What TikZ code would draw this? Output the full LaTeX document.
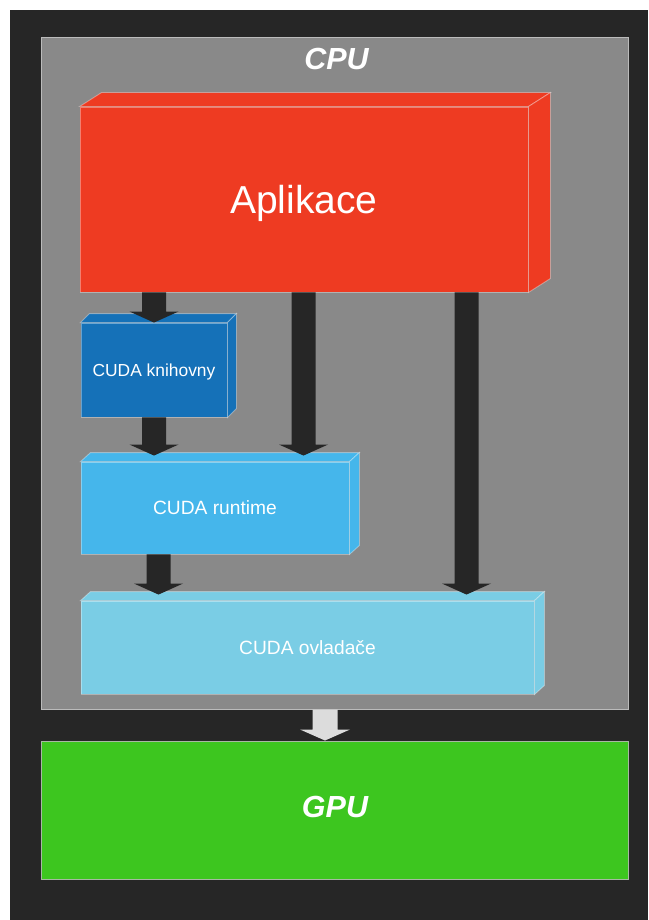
\documentclass[tikz,border=0pt]{standalone}
\usepackage{fontspec}
\setmainfont{Liberation Sans}
\usetikzlibrary{calc}
\definecolor{bgdark}{HTML}{262626}
\definecolor{cpufill}{HTML}{898989}
\definecolor{cpuedge}{HTML}{BBBBBB}
\definecolor{gpufill}{HTML}{3DC61F}
\definecolor{gpuedge}{HTML}{A8B8A4}
\definecolor{appred}{HTML}{EE3B22}
\definecolor{libblue}{HTML}{1571B8}
\definecolor{rtblue}{HTML}{45B6EB}
\definecolor{drvblue}{HTML}{7ACDE5}
\definecolor{arrowdark}{HTML}{262626}
\definecolor{arrowlight}{HTML}{DCDCDC}
\newcommand{\depthfaces}[4]{% node, dx, dy, colour
  \filldraw[faceedge, fill=#4] (#1.north west) -- ++(#2,#3) -- ($(#1.north east)+(#2,#3)$) -- (#1.north east) -- cycle;
  \filldraw[faceedge, fill=#4] (#1.north east) -- ++(#2,#3) -- ($(#1.south east)+(#2,#3)$) -- (#1.south east) -- cycle;
}
\newcommand{\blockarrow}[6]{% colour, start, tip, shaft half, head half, head length
  \fill[#1] let \p1=#2, \p2=#3 in
    (\x1-#4,\y1) -- (\x1+#4,\y1) -- (\x1+#4,\y2+#6) -- (\x1+#5,\y2+#6) -- (\x1,\y2)
    -- (\x1-#5,\y2+#6) -- (\x1-#4,\y2+#6) -- cycle;
}
\tikzset{
  faceedge/.style={draw=white, draw opacity=0.35, line width=0.9pt},
  boxfront/.style={faceedge, inner sep=0pt, text=white, text depth=0pt},
  bigbox/.style={draw=#1, line width=1pt, inner sep=0pt},
  titletext/.style={text=white, font=\fontsize{30.5}{30.5}\selectfont\bfseries\itshape, inner sep=0pt, anchor=base},
}
\begin{document}
\begin{tikzpicture}[x=1pt, y=-1pt]
\useasboundingbox (0,0) rectangle (648,920);
\fill[white] (0,0) rectangle (648,920);
\fill[bgdark] (10,10) rectangle (648,920);

% CPU and GPU areas
\node[bigbox=cpuedge, fill=cpufill, minimum width=587pt, minimum height=671pt] (cpu) at (334.5,373.5) {};
\node[titletext] (cputxt) at (336.5,69.5) {CPU};
\node[bigbox=gpuedge, fill=gpufill, minimum width=587pt, minimum height=138pt] (gpu) at (334.5,810) {};
\node[titletext] (gputxt) at (335,817.5) {GPU};

% 3D boxes
\node[boxfront, fill=appred, minimum width=448pt, minimum height=185pt, text height=28pt,
      font=\fontsize{39}{39}\selectfont] (app) at (304,199.5) {Aplikace};
\depthfaces{app}{22}{-14}{appred}
\node[boxfront, fill=libblue, minimum width=146pt, minimum height=94pt, text height=12.5pt,
      font=\fontsize{17.4}{17.4}\selectfont] (lib) at (154,370) {CUDA knihovny};
\depthfaces{lib}{9}{-9}{libblue}
\node[boxfront, fill=rtblue, minimum width=268pt, minimum height=92pt, text height=13.8pt,
      font=\fontsize{19.2}{19.2}\selectfont] (rt) at (215,508) {CUDA runtime};
\depthfaces{rt}{10}{-9}{rtblue}
\node[boxfront, fill=drvblue, minimum width=453pt, minimum height=93pt, text height=13.8pt,
      font=\fontsize{19.2}{19.2}\selectfont] (drv) at (307.5,647.5) {CUDA ovladače};
\depthfaces{drv}{10}{-9}{drvblue}

% arrow columns
\coordinate (colA) at (154,0);
\coordinate (colB) at (303.5,0);
\coordinate (colC) at (158.5,0);
\coordinate (colD) at (466.5,0);
\coordinate (colE) at (325,0);

\blockarrow{arrowdark}{(app.south -| colA)}{(lib.north -| colA)}{12pt}{24.5pt}{11pt}
\blockarrow{arrowdark}{(lib.south -| colA)}{($(rt.north -| colA)+(0,-6)$)}{12pt}{24.5pt}{11pt}
\blockarrow{arrowdark}{(app.south -| colB)}{($(rt.north -| colB)+(0,-6)$)}{12pt}{24.5pt}{11pt}
\blockarrow{arrowdark}{(rt.south -| colC)}{($(drv.north -| colC)+(0,-6)$)}{12pt}{24.5pt}{11pt}
\blockarrow{arrowdark}{(app.south -| colD)}{($(drv.north -| colD)+(0,-6)$)}{12pt}{24.5pt}{11pt}
\blockarrow{arrowlight}{(cpu.south -| colE)}{(gpu.north -| colE)}{12.5pt}{25pt}{11pt}
\end{tikzpicture}
\end{document}
